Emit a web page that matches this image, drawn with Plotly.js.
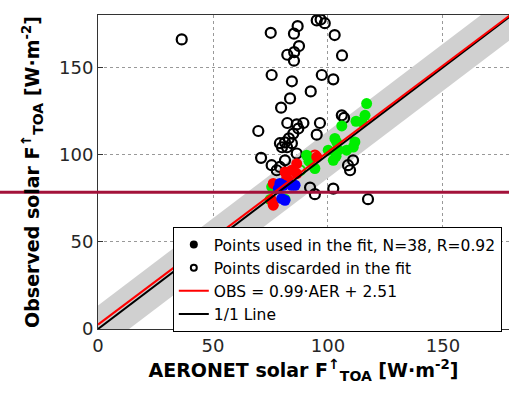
<!DOCTYPE html>
<html><head><meta charset="utf-8">
<script src="https://cdn.plot.ly/plotly-3.0.1.min.js"></script>
<style>html,body{margin:0;padding:0;background:#fff}#chart{width:509px;height:403px}</style>
</head><body><div id="chart"></div>
<script>
// Points used in the fit (filled)
const greenX = [116.8,116.1,114.7,112.2,106.0,103.0,103.8,111.7,111.0,108.1,100.1,104.5,102.3,103.5,94.3,90.7,91.7,75.5,74.8,81.3];
const greenY = [129.2,122.5,118.7,119.1,116.4,109.2,107.0,107.2,104.3,102.5,102.5,102.5,96.7,99.0,92.0,99.6,96.2,81.5,74.2,74.4];
const redX = [95.1,86.4,84.2,81.3,86.4,82.0,76.2,75.5,76.2,82.6];
const redY = [98.6,94.8,91.0,90.0,89.1,86.3,83.4,73.8,71.0,85.3];
const blueX = [79.1,80.6,84.2,85.7,78.4,79.9,81.3];
const blueY = [83.4,82.4,82.4,82.4,80.5,74.8,73.8];
// Points discarded in the fit (open)
const discX = [36.4,75.1,86.8,85.2,95.1,96.8,98.6,102.9,87.4,85.3,82.3,85.2,106.1,75.5,84.3,97.3,102.3,92.5,83.5,79.6,106.0,107.0,96.5,89.3,82.3,86.4,87.1,69.7,84.9,95.1,83.0,81.3,79.1,82.2,84.3,80.0,86.4,70.9,75.5,81.3,79.1,108.7,110.9,109.6,92.2,94.3,102.3,117.4,77.7];
const discY = [166.0,169.8,173.6,169.3,176.9,177.4,175.3,168.5,162.2,158.7,157.2,153.8,156.8,145.6,142.0,145.6,143.1,136.2,132.2,126.9,122.5,121.0,118.1,118.1,118.1,117.3,114.9,113.5,112.0,111.4,109.3,107.0,106.5,104.2,106.5,104.2,100.6,98.1,93.9,96.7,92.9,93.9,96.7,91.0,81.1,77.3,80.5,74.4,91.0];
const discRedX = [94.3];
const discRedY = [99.4];
const discGreenX = [87.8];
const discGreenY = [91.0];
// Fit and reference lines
const fitSlope = 0.99, fitIntercept = 2.51, bandHalf = 13.5;
const lineX = [0, 180];
const threshold = 78.4;
const xTicks = [0, 50, 100, 150];
const yTicks = [0, 50, 100, 150];

const fitY = lineX.map(v => fitSlope * v + fitIntercept);
const bandX = [lineX[0], lineX[1], lineX[1], lineX[0]];
const bandY = [lineX[0] + bandHalf, lineX[1] + bandHalf, lineX[1] - bandHalf, lineX[0] - bandHalf];

const openMarker = c => ({symbol: 'circle-open', size: 10, color: c, line: {width: 2.2, color: c}});
const fillMarker = c => ({symbol: 'circle', size: 11, color: c, line: {width: 0}});

const traces = [
  {x: bandX, y: bandY, type: 'scatter', mode: 'none', fill: 'toself', fillcolor: '#d0d0d0', showlegend: false, hoverinfo: 'skip'},
  {x: discX, y: discY, type: 'scatter', mode: 'markers', marker: openMarker('#000'), showlegend: false},
  {x: discRedX, y: discRedY, type: 'scatter', mode: 'markers', marker: openMarker('#ff0000'), showlegend: false},
  {x: discGreenX, y: discGreenY, type: 'scatter', mode: 'markers', marker: openMarker('#00ee00'), showlegend: false},
  {x: greenX, y: greenY, type: 'scatter', mode: 'markers', marker: fillMarker('#00ee00'), showlegend: false},
  {x: redX, y: redY, type: 'scatter', mode: 'markers', marker: fillMarker('#ff0000'), showlegend: false},
  {x: blueX, y: blueY, type: 'scatter', mode: 'markers', marker: fillMarker('#0000ff'), showlegend: false},
  {x: lineX, y: lineX, type: 'scatter', mode: 'lines', line: {color: '#000', width: 2}, showlegend: false},
  {x: lineX, y: fitY, type: 'scatter', mode: 'lines', line: {color: '#ff0000', width: 2}, showlegend: false},
  // legend entries
  {x: [null], y: [null], type: 'scatter', mode: 'markers', marker: {symbol: 'circle', size: 8, color: '#000'}, name: 'Points used in the fit, N=38, R=0.92'},
  {x: [null], y: [null], type: 'scatter', mode: 'markers', marker: {symbol: 'circle-open', size: 6, color: '#000', line: {width: 2, color: '#000'}}, name: 'Points discarded in the fit'},
  {x: [null], y: [null], type: 'scatter', mode: 'lines', line: {color: '#ff0000', width: 2}, name: 'OBS = 0.99·AER + 2.51'},
  {x: [null], y: [null], type: 'scatter', mode: 'lines', line: {color: '#000', width: 2}, name: '1/1 Line'}
];

const font = 'DejaVu Sans, Liberation Sans, Arial, sans-serif';
const axisCommon = {
  showgrid: true, gridcolor: '#999', griddash: 'dot', gridwidth: 1,
  zeroline: false, showline: true, linecolor: '#333', linewidth: 1,
  ticks: 'inside', ticklen: 5, tickcolor: '#333',
  tickfont: {family: font, size: 18, color: '#262626'}
};
const titleText = pre => pre + ' F<sup><span style="font-size:14px">↑</span></sup><sub><span style="font-size:14px">TOA</span></sub> [W·m<sup>-2</sup>]';

const layout = {
  width: 509, height: 403,
  margin: {l: 98, r: 0, t: 15, b: 74},
  paper_bgcolor: '#fff', plot_bgcolor: '#fff',
  showlegend: true,
  legend: {x: 0.182, y: 0.325, xanchor: 'left', yanchor: 'top', bgcolor: '#fff', bordercolor: '#000', borderwidth: 1,
    font: {family: font, size: 15.5, color: '#000'}, tracegroupgap: 0},
  xaxis: Object.assign({}, axisCommon, {range: [0, 178.7], tickvals: xTicks, mirror: true,
    title: {text: titleText('AERONET solar'), font: {family: font, size: 19, color: '#000', weight: 'bold'}, standoff: 3}}),
  yaxis: Object.assign({}, axisCommon, {range: [0, 180], tickvals: yTicks, mirror: false,
    title: {text: titleText('Observed solar'), font: {family: font, size: 19, color: '#000', weight: 'bold'}, standoff: 14}}),
  shapes: [
    {type: 'line', xref: 'paper', yref: 'y', x0: -98/411, x1: 1, y0: threshold, y1: threshold, line: {color: '#a3123a', width: 3}, layer: 'above'}
  ]
};

Plotly.newPlot('chart', traces, layout, {displayModeBar: false, staticPlot: true});
</script>
</body></html>
